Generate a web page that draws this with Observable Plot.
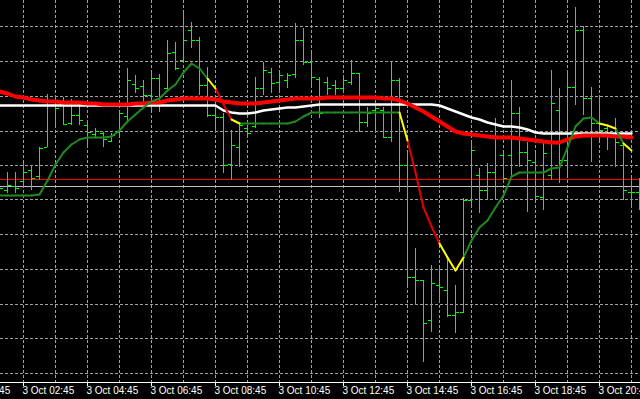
<!DOCTYPE html>
<html>
<head>
<meta charset="utf-8">
<script src="https://cdn.jsdelivr.net/npm/d3@7"></script>
<script src="https://cdn.jsdelivr.net/npm/@observablehq/plot@0.6"></script>
<style>
  html, body { margin: 0; padding: 0; background: #000; overflow: hidden; }
  #chart svg { display: block; }
</style>
</head>
<body>
<div id="chart"></div>
<script>
// ---- data (prices in points) ----
const startTime = "2013-10-03T02:00Z";   // first bar (M15)
const barMinutes = 15;

const high = [825,828,828,837,835,853,906,905,903,901,
  896,880,872,868,867,888,932,925,920,928,
  926,960,958,988,978,963,933,900,887,870,
  877,873,923,938,932,928,927,977,972,947,
  923,923,920,923,940,927,893,893,893,938,
  922,847,752,720,735,733,742,715,802,858,
  832,837,882,848,920,893,858,847,857,930,
  912,930,993,974,913,905,873,882,857,822,
  822];
const low = [805,807,807,813,810,820,853,875,875,875,
  875,853,863,853,858,863,877,907,898,890,
  888,910,930,938,952,905,883,867,827,820,
  833,862,872,905,907,908,912,922,935,915,
  882,905,905,907,915,868,873,868,862,858,
  808,715,695,638,668,698,683,667,687,793,
  787,800,800,818,825,833,788,800,790,820,
  817,825,895,885,838,860,850,833,800,793,
  790];
const open = [810,810,814,819,830,824,853,898,896,877,
  885,875,866,867,859,868,884,916,914,905,
  922,912,948,940,970,960,915,885,883,836,
  853,872,874,912,928,918,920,926,960,938,
  921,918,915,912,918,927,878,890,890,863,
  920,835,723,720,680,715,710,685,688,800,
  825,810,828,845,845,887,848,838,803,825,
  890,840,913,970,902,877,872,867,855,808,
  808];
const close = [812,815,812,828,822,852,900,892,876,885,
  880,868,869,861,865,887,920,912,905,922,
  900,947,932,960,960,915,885,883,835,855,
  875,867,912,930,917,925,925,960,938,923,
  887,912,912,920,927,878,887,892,863,920,
  835,723,720,677,717,713,685,688,800,850,
  810,828,875,822,887,848,840,804,847,897,
  840,913,970,902,877,870,867,858,810,808,
  814];

// coloured signal line and its state per segment (g = up, y = turning, r = down)
const signal = [805,805,805,805,805,806,820,836,848,856,
  861,863,863,863,864,870,879,886,893,899,
  902,910,916,928,937,932,922,912,896,881,
  877,877,877,877,877,877,877,879,884,888,
  888,888,888,888,888,888,888,888,888,888,
  888,860,828,793,774,757,743,730,743,760,
  773,780,793,805,824,828,828,828,828,832,
  833,853,874,882,883,877,875,872,857,850,
  null];
const signalState =
  "gggggggggggggggggggggggggg" + "y" + "rr" + "y" +
  "gggggggggggggggggggg" + "y" + "rrrr" + "yyy" +
  "ggggggggggggggggg" + "yy" + "g" + "y" + "g";

const slowMA = [909,907,904,903,901,900,899,899,898,898,
  898,897,897,896,896,896,896,897,897,898,
  898,900,901,902,902,902,902,901,899,898,
  897,897,897,898,899,900,901,902,902,902,
  902,903,903,903,903,903,903,903,902,902,
  900,897,893,889,884,879,874,869,867,866,
  865,864,863,863,863,862,861,860,859,858,
  858,861,864,865,865,865,865,864,864,863,
  null];
const fastMA = [895,895,895,895,895,895,895,895,895,895,
  895,895,895,895,895,895,895,895,895,895,
  895,895,895,895,895,895,895,895,890,888,
  887,887,888,890,891,892,893,893,894,895,
  896,896,896,896,896,896,896,896,896,896,
  896,896,896,896,896,895,892,889,886,883,
  881,878,876,874,874,873,871,868,867,867,
  867,867,867,867,867,867,867,867,867,867,
  null];

const askPrice = 821;
const bidPrice = 814;
const gridPrices = [974, 939, 904, 869, 835, 801, 766, 731, 696, 662, 627];
const gridTimes = ["02:45","03:45","04:45","05:45","06:45","07:45","08:45","09:45","10:45","11:45",
  "12:45","13:45","14:45","15:45","16:45","17:45","18:45","19:45","20:45","21:45"];
const labelTimes = ["00:45","02:45","04:45","06:45","08:45","10:45","12:45","14:45","16:45","18:45","20:45"];
const chartDay = "2013-10-03";

// ---- build ----
const W = 640, H = 399;
const step = barMinutes * 60000;
const t0 = Date.parse(startTime);
const bars = high.map((h, i) => ({
  t: new Date(t0 + i * step), high: h, low: low[i], open: open[i], close: close[i],
  signal: signal[i], slow: slowMA[i], fast: fastMA[i]
}));
const xDomain = [new Date(t0 + step * 0.125), new Date(t0 + step * 80.125)];
const msPerPx = (xDomain[1] - xDomain[0]) / W;
const toDate = s => new Date(`${chartDay}T${s}Z`);
const gridDates = gridTimes.map(toDate);
const labelDates = labelTimes.map(toDate);

const segs = [];
for (let i = 0; i < bars.length - 1; i++) {
  if (signal[i] != null && signal[i + 1] != null)
    segs.push({t1: bars[i].t, v1: signal[i], t2: bars[i + 1].t, v2: signal[i + 1], s: signalState[i]});
}
const segColors = {g: "#1f8a1f", y: "#ffff00", r: "#e00000"};
const fmt = d3.utcFormat("%-d %b %H:%M");
const barColor = "#00ff00";
const gridColor = "#a0a0a0";
const crisp = {shapeRendering: "crispEdges"};

const segMark = s => Plot.link(segs.filter(d => d.s === s), {
  x1: "t1", y1: "v1", x2: "t2", y2: "v2",
  stroke: segColors[s], strokeWidth: 2, strokeLinecap: "round"
});

const chart = Plot.plot({
  width: W, height: H,
  marginTop: 0, marginLeft: 0, marginRight: 0, marginBottom: 17,
  style: {background: "#000", color: "#fff", fontFamily: "Liberation Sans, Arial, sans-serif"},
  x: {type: "utc", domain: xDomain, axis: null},
  y: {domain: [618, 1000], axis: null},
  marks: [
    Plot.ruleY(gridPrices, {stroke: gridColor, strokeDasharray: "3,2", ...crisp}),
    Plot.ruleX(gridDates, {stroke: gridColor, strokeDasharray: "3,2", ...crisp}),
    Plot.ruleY([askPrice], {stroke: "#ff0000", ...crisp}),
    Plot.ruleY([bidPrice], {stroke: "#c0c0c0", ...crisp}),
    Plot.ruleX(bars, {x: "t", y1: "low", y2: "high", stroke: barColor, ...crisp}),
    Plot.ruleY(bars, {y: "open", x1: d => new Date(+d.t - 3.5 * msPerPx), x2: d => new Date(+d.t - 0.5 * msPerPx), stroke: barColor, ...crisp}),
    Plot.ruleY(bars, {y: "close", x1: d => new Date(+d.t + 0.5 * msPerPx), x2: d => new Date(+d.t + 3.5 * msPerPx), stroke: barColor, ...crisp}),
    Plot.line(bars, {x: "t", y: "fast", stroke: "#ffffff", strokeWidth: 2.5}),
    Plot.line(bars, {x: "t", y: "slow", stroke: "#ff0000", strokeWidth: 4}),
    segMark("g"), segMark("r"), segMark("y"),
    Plot.ruleY([618], {stroke: "#ffffff", ...crisp}),
    Plot.ruleX(labelDates, {y1: 618, y2: 614.5, stroke: "#ffffff", ...crisp}),
    Plot.text(labelDates, {x: d => d, text: d => fmt(d), frameAnchor: "bottom", textAnchor: "start",
      dx: -1, dy: 11, fill: "#ffffff", fontSize: 10})
  ]
});
document.getElementById("chart").append(chart);
</script>
</body>
</html>
